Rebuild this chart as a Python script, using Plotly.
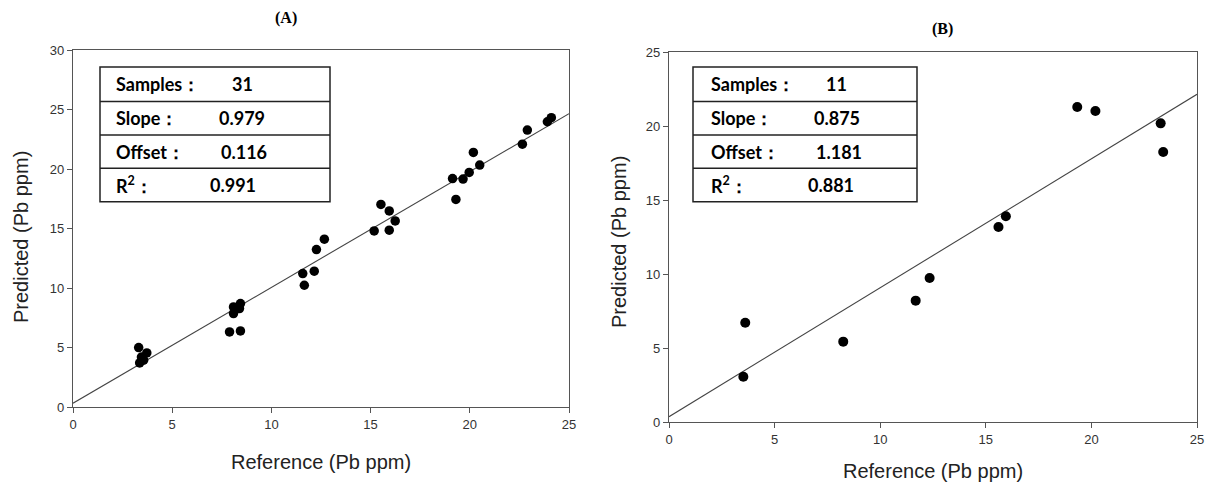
import plotly.graph_objects as go

W, H = 1210, 490

# ---------------- data ----------------
ref_a = [3.31, 3.36, 3.56, 3.72, 3.45, 7.89, 8.44, 8.09, 8.09, 8.39, 8.44,
         11.58, 11.66, 12.16, 12.27, 12.67, 15.18, 15.52, 15.94, 15.94, 16.24,
         19.13, 19.30, 19.66, 19.97, 20.18, 20.50, 22.65, 22.90, 23.91, 24.11]
pred_a = [4.99, 3.70, 3.93, 4.54, 4.20, 6.31, 6.39, 8.41, 7.85, 8.27, 8.69,
          11.21, 10.23, 11.41, 13.23, 14.10, 14.80, 17.02, 16.48, 14.86, 15.64,
          19.20, 17.44, 19.15, 19.71, 21.39, 20.33, 22.09, 23.27, 23.97, 24.31]
fit_a_x = [0, 25]
fit_a_y = [0.32, 24.65]

ref_b = [3.52, 3.61, 8.25, 11.68, 12.34, 15.60, 15.95, 19.33, 20.19, 23.28, 23.40]
pred_b = [3.06, 6.71, 5.43, 8.20, 9.73, 13.18, 13.90, 21.28, 21.01, 20.18, 18.24]
fit_b_x = [0, 25]
fit_b_y = [0.36, 22.14]

stat_labels = ["Samples：", "Slope：", "Offset：", "R<sup>2</sup>："]
stats_a = ["31", "0.979", "0.116", "0.991"]
stats_b = ["11", "0.875", "1.181", "0.881"]

titles = ["(A)", "(B)"]
x_title = "Reference (Pb ppm)"
y_title = "Predicted (Pb ppm)"
ticks_x = [0, 5, 10, 15, 20, 25]
ticks_ya = [0, 5, 10, 15, 20, 25, 30]
ticks_yb = [0, 5, 10, 15, 20, 25]


def px(x):
    return x / W


def py(y):
    return 1 - y / H


fig = go.Figure()
fig.add_trace(go.Scatter(x=fit_a_x, y=fit_a_y, mode="lines",
                         line=dict(color="#444", width=1.1), xaxis="x", yaxis="y",
                         showlegend=False, hoverinfo="skip"))
fig.add_trace(go.Scatter(x=ref_a, y=pred_a, mode="markers",
                         marker=dict(color="black", size=9.5), xaxis="x", yaxis="y",
                         showlegend=False))
fig.add_trace(go.Scatter(x=fit_b_x, y=fit_b_y, mode="lines",
                         line=dict(color="#444", width=1.1), xaxis="x2", yaxis="y2",
                         showlegend=False, hoverinfo="skip"))
fig.add_trace(go.Scatter(x=ref_b, y=pred_b, mode="markers",
                         marker=dict(color="black", size=10), xaxis="x2", yaxis="y2",
                         showlegend=False))

axis_common = dict(showline=True, mirror=True, linecolor="#555", linewidth=1.2,
                   ticks="outside", ticklen=5, tickcolor="#555", tickwidth=1,
                   showgrid=False, zeroline=False, automargin=False,
                   tickfont=dict(family="Liberation Sans, Arial", size=13, color="#333"))

fig.update_layout(
    width=W, height=H,
    margin=dict(l=0, r=0, t=0, b=0, pad=0, autoexpand=False),
    paper_bgcolor="white", plot_bgcolor="white",
    xaxis=dict(domain=[px(73), px(569)], range=[0, 25], tickvals=ticks_x,
               anchor="y", **axis_common),
    yaxis=dict(domain=[py(407), py(50)], range=[0, 30], tickvals=ticks_ya,
               anchor="x", **axis_common),
    xaxis2=dict(domain=[px(669), px(1197)], range=[0, 25], tickvals=ticks_x,
                anchor="y2", **axis_common),
    yaxis2=dict(domain=[py(422), py(52)], range=[0, 25], tickvals=ticks_yb,
                anchor="x2", **axis_common),
)

shapes = []
annotations = []

title_font = dict(family="Liberation Serif, Times New Roman", size=16, color="black")
annotations.append(dict(x=px(286), y=py(18), xref="paper", yref="paper", text="<b>%s</b>" % titles[0],
                        showarrow=False, font=title_font, xanchor="center", yanchor="middle"))
annotations.append(dict(x=px(942), y=py(29), xref="paper", yref="paper", text="<b>%s</b>" % titles[1],
                        showarrow=False, font=title_font, xanchor="center", yanchor="middle"))

axt_font = dict(family="Liberation Sans, Arial", size=20, color="#222")
annotations.append(dict(x=px(321), y=py(462), xref="paper", yref="paper", text=x_title,
                        showarrow=False, font=axt_font, xanchor="center", yanchor="middle"))
annotations.append(dict(x=px(933), y=py(471), xref="paper", yref="paper", text=x_title,
                        showarrow=False, font=axt_font, xanchor="center", yanchor="middle"))
annotations.append(dict(x=px(21), y=py(237), xref="paper", yref="paper", text=y_title, textangle=-90,
                        showarrow=False, font=axt_font, xanchor="center", yanchor="middle"))
annotations.append(dict(x=px(619), y=py(242), xref="paper", yref="paper", text=y_title, textangle=-90,
                        showarrow=False, font=axt_font, xanchor="center", yanchor="middle"))

tab_font = dict(family="Lato, Noto Sans, sans-serif", size=18, color="black")


def add_table(x0, x1, rows_y, label_x, val_x, values):
    shapes.append(dict(type="rect", xref="paper", yref="paper", x0=px(x0), x1=px(x1),
                       y0=py(rows_y[-1]), y1=py(rows_y[0]),
                       line=dict(color="#222", width=1.5), fillcolor="white", layer="above"))
    for yy in rows_y[1:-1]:
        shapes.append(dict(type="line", xref="paper", yref="paper", x0=px(x0), x1=px(x1),
                           y0=py(yy), y1=py(yy), line=dict(color="#222", width=1.5), layer="above"))
    for i, (lab, val) in enumerate(zip(stat_labels, values)):
        yc = (rows_y[i] + rows_y[i + 1]) / 2
        annotations.append(dict(x=px(label_x), y=py(yc), xref="paper", yref="paper",
                                text="<b>%s</b>" % lab, showarrow=False, font=tab_font,
                                xanchor="left", yanchor="middle"))
        annotations.append(dict(x=px(val_x[i]), y=py(yc), xref="paper", yref="paper",
                                text="<b>%s</b>" % val, showarrow=False, font=tab_font,
                                xanchor="center", yanchor="middle"))


add_table(100, 330, [67, 101.5, 135, 168.3, 201.7], 114, [242, 242, 244, 233], stats_a)
add_table(693, 917, [67, 101.5, 135, 168.3, 201.7], 709, [836, 837, 839, 831], stats_b)

fig.update_layout(shapes=shapes, annotations=annotations)
fig.write_html(
    "out.html",
    config={"displayModeBar": False, "staticPlot": True},
    post_script="document.body.style.margin='0';document.body.style.overflow='hidden';",
)
